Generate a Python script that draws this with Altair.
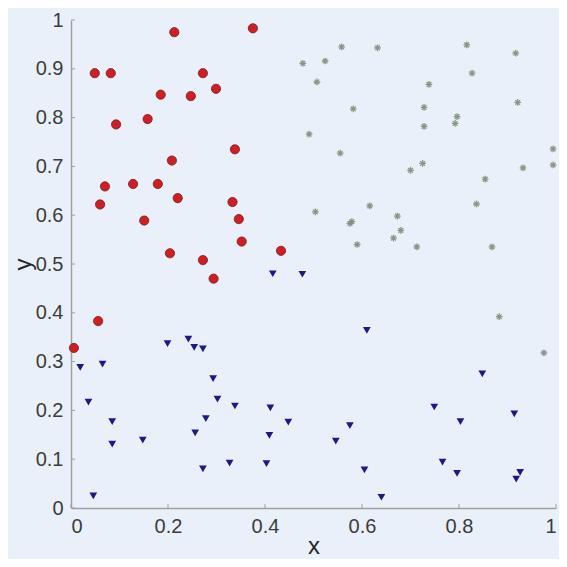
import altair as alt
import pandas as pd

# Red circles
red_x = [0.213, 0.375, 0.049, 0.082, 0.272, 0.299, 0.185, 0.247, 0.158, 0.093,
         0.338, 0.208, 0.070, 0.128, 0.179, 0.060, 0.220, 0.333, 0.151, 0.346,
         0.352, 0.204, 0.433, 0.272, 0.294, 0.056, 0.006]
red_y = [0.975, 0.983, 0.891, 0.891, 0.891, 0.859, 0.847, 0.844, 0.797, 0.786,
         0.735, 0.712, 0.659, 0.664, 0.664, 0.622, 0.635, 0.627, 0.589, 0.592,
         0.546, 0.522, 0.527, 0.508, 0.470, 0.383, 0.328]

# Blue down-triangles
blue_x = [0.019, 0.065, 0.036, 0.085, 0.085, 0.046, 0.148, 0.199, 0.242, 0.254,
          0.272, 0.293, 0.302, 0.278, 0.256, 0.272, 0.338, 0.327, 0.411, 0.409,
          0.403, 0.448, 0.477, 0.416, 0.610, 0.848, 0.749, 0.914, 0.803, 0.575,
          0.546, 0.766, 0.796, 0.605, 0.926, 0.918, 0.640]
blue_y = [0.288, 0.295, 0.217, 0.177, 0.131, 0.025, 0.139, 0.337, 0.346, 0.329,
          0.326, 0.265, 0.223, 0.183, 0.154, 0.080, 0.209, 0.092, 0.205, 0.149,
          0.091, 0.176, 0.479, 0.480, 0.364, 0.275, 0.207, 0.193, 0.177, 0.169,
          0.137, 0.094, 0.071, 0.078, 0.073, 0.059, 0.022]

# Grey-green asterisks
star_x = [0.558, 0.632, 0.816, 0.917, 0.478, 0.524, 0.827, 0.507, 0.738, 0.921,
          0.582, 0.728, 0.796, 0.792, 0.728, 0.491, 0.994, 0.555, 0.994, 0.725,
          0.700, 0.932, 0.854, 0.836, 0.504, 0.616, 0.673, 0.579, 0.575, 0.680,
          0.665, 0.590, 0.713, 0.868, 0.883, 0.975]
star_y = [0.945, 0.943, 0.949, 0.932, 0.911, 0.916, 0.891, 0.873, 0.868, 0.831,
          0.818, 0.821, 0.802, 0.788, 0.782, 0.766, 0.736, 0.727, 0.703, 0.706,
          0.692, 0.697, 0.674, 0.623, 0.607, 0.619, 0.598, 0.587, 0.583, 0.569,
          0.553, 0.540, 0.535, 0.535, 0.392, 0.318]

x_ticks = [0, 0.2, 0.4, 0.6, 0.8, 1]
y_ticks = [0, 0.1, 0.2, 0.3, 0.4, 0.5, 0.6, 0.7, 0.8, 0.9, 1]

W, H = 485, 488

xs = alt.Scale(domain=[0, 1], nice=False, zero=False)
ys = alt.Scale(domain=[0, 1], nice=False, zero=False)
xax = alt.Axis(values=x_ticks, title="x", format="~g",
               titleBaseline="alphabetic", titleY=45)
yax = alt.Axis(values=y_ticks, title="y", format="~g",
               titleBaseline="alphabetic", titleX=-41)

red = pd.DataFrame({"x": red_x, "y": red_y})
blue = pd.DataFrame({"x": blue_x, "y": blue_y})
star = pd.DataFrame({"x": star_x, "y": star_y})
xt = pd.DataFrame({"t": x_ticks})
yt = pd.DataFrame({"t": y_ticks})

asterisk = "M-1,0L1,0M0,-1L0,1M-0.7,-0.7L0.7,0.7M-0.7,0.7L0.7,-0.7"

star_layer = alt.Chart(star).mark_point(
    shape=asterisk, filled=False, size=45, stroke="#7d917f", strokeWidth=1.3, opacity=0.9
).encode(x=alt.X("x:Q", scale=xs, axis=xax), y=alt.Y("y:Q", scale=ys, axis=yax))

red_layer = alt.Chart(red).mark_point(
    shape="circle", filled=True, size=85, fill="#cf1f26", stroke="#7a1c1c",
    strokeWidth=0.8, opacity=1
).encode(x=alt.X("x:Q", scale=xs, axis=xax), y=alt.Y("y:Q", scale=ys, axis=yax))

blue_layer = alt.Chart(blue).mark_point(
    shape="triangle-down", filled=True, size=60, fill="#1c1a86", opacity=1
).encode(x=alt.X("x:Q", scale=xs, axis=xax), y=alt.Y("y:Q", scale=ys, axis=yax))

xtick_layer = alt.Chart(xt).mark_rule(color="#a0a0a0", strokeWidth=1).encode(
    x=alt.X("t:Q", scale=xs, axis=xax), y=alt.value(H), y2=alt.value(H - 4)
)
ytick_layer = alt.Chart(yt).mark_rule(color="#a0a0a0", strokeWidth=1).encode(
    y=alt.Y("t:Q", scale=ys, axis=yax), x=alt.value(0), x2=alt.value(4)
)

chart = alt.layer(xtick_layer, ytick_layer, star_layer, red_layer, blue_layer).properties(
    width=W, height=H,
    autosize=alt.AutoSizeParams(type="none"),
    padding={"left": 63, "top": 12, "right": 3, "bottom": 51},
    background="#eaf0f9",
).configure_view(stroke=None).configure_axis(
    grid=False, ticks=False, domainColor="#a0a0a0", domainWidth=1.5,
    labelFont="Liberation Sans", labelFontSize=20, labelColor="#3c3c3c",
    titleFont="Liberation Sans", titleFontSize=24, titleFontWeight="normal",
    titleColor="#262626", labelPadding=8,
)

chart.save("out.html", embed_options={"renderer": "svg", "actions": False})
